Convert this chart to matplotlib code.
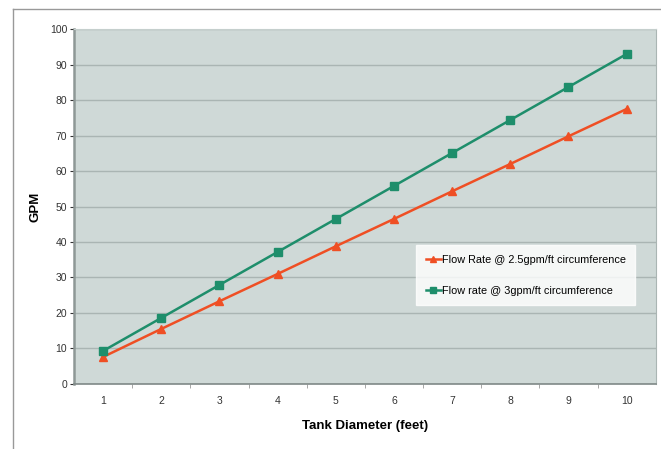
import matplotlib
matplotlib.use("Agg")
import matplotlib.pyplot as plt
from matplotlib.lines import Line2D

plt.rcParams['font.family'] = ['Liberation Sans', 'DejaVu Sans']

diameter = [1, 2, 3, 4, 5, 6, 7, 8, 9, 10]
flow_25 = [7.6, 15.5, 23.3, 31.0, 38.8, 46.5, 54.3, 62.0, 69.8, 77.5]
flow_3 = [9.3, 18.6, 27.9, 37.2, 46.5, 55.8, 65.1, 74.4, 83.7, 93.0]
label_25 = "Flow Rate @ 2.5gpm/ft circumference"
label_3 = "Flow rate @ 3gpm/ft circumference"

fig = plt.figure(figsize=(6.61, 4.49), dpi=100)
ax = fig.add_axes([0.112, 0.145, 0.880, 0.790])
ax.set_facecolor('#cfd9d7')

ax.plot(diameter, flow_25, color='#ef4f24', marker='^', markersize=6, lw=1.8, label=label_25)
ax.plot(diameter, flow_3, color='#1e8e6b', marker='s', markersize=6, lw=1.8, label=label_3)

ax.set_xlim(0.5, 10.5)
ax.set_ylim(0, 100)
ax.set_yticks(range(0, 101, 10))
ax.set_xticks(diameter)
ax.set_xticks([d + 0.5 for d in diameter[:-1]], minor=True)
ax.tick_params(axis='x', which='major', length=0, labelsize=7.5, pad=9, colors='#333333')
ax.tick_params(axis='x', which='minor', length=3, direction='out', color='#999999')
ax.tick_params(axis='y', length=3, labelsize=7.5, colors='#333333', pad=2)
ax.grid(axis='y', color='#aab5b3', lw=1)
ax.set_axisbelow(True)

ax.spines['top'].set_color('#c5cfcd')
ax.spines['right'].set_color('#aab5b3')
ax.spines['left'].set_color('#8e9896')
ax.spines['left'].set_linewidth(1.8)
ax.spines['bottom'].set_color('#7f8987')
ax.spines['bottom'].set_linewidth(1.2)

ax.set_xlabel('Tank Diameter (feet)', fontsize=9.5, fontweight='bold', labelpad=10)
ax.set_ylabel('GPM', fontsize=9.5, fontweight='bold', labelpad=6)

leg = ax.legend(loc='upper left', bbox_to_anchor=(0.588, 0.392), fontsize=7.8,
                frameon=True, fancybox=False, borderpad=0.9, labelspacing=1.95,
                handlelength=1.4, handletextpad=0.05, markerscale=0.7,
                borderaxespad=0)
leg.get_frame().set_facecolor('white')
leg.get_frame().set_edgecolor('white')

# outer frame lines (top and left)
fig.add_artist(Line2D([13 / 661, 1], [1 - 9 / 449, 1 - 9 / 449], transform=fig.transFigure, color='#999999', lw=1))
fig.add_artist(Line2D([13 / 661, 13 / 661], [0, 1 - 9 / 449], transform=fig.transFigure, color='#999999', lw=1))

fig.savefig('out.png', dpi=100)
